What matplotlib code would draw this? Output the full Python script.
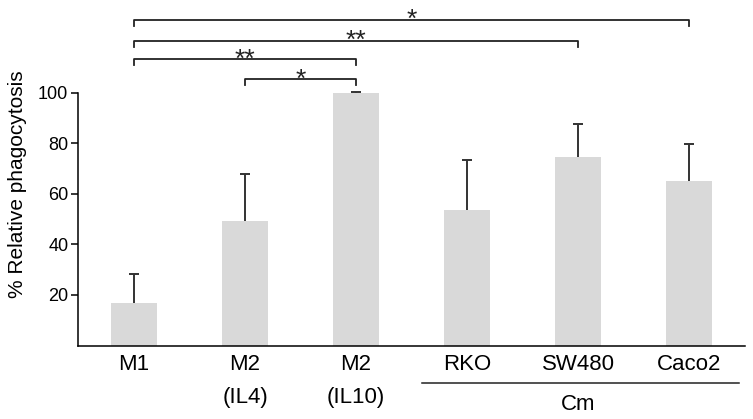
import matplotlib.pyplot as plt

plt.rcParams['font.family'] = ['Liberation Sans', 'DejaVu Sans']

groups = ['M1', 'M2\n(IL4)', 'M2\n(IL10)', 'RKO', 'SW480', 'Caco2']
values = [16.9, 49.3, 100.0, 53.4, 74.5, 65.0]
errors = [11.3, 18.6, 0.3, 19.9, 12.9, 14.8]

# significance brackets: (left bar, right bar, height, label)
brackets = [(1, 2, 105.3, '*'),
            (0, 2, 113.2, '**'),
            (0, 4, 120.4, '**'),
            (0, 5, 128.7, '*')]

fig = plt.figure(figsize=(7.53, 4.19), dpi=100)
ax = fig.add_axes([0.1036, 0.1754, 0.8858, 0.815])

x = list(range(len(groups)))
tops = [v + e for v, e in zip(values, errors)]
ax.bar(x, values, width=0.414, color='#d9d9d9', zorder=1)
# upper half of the error bars only
ax.vlines(x, values, tops, color='#333333', lw=1.4, zorder=2)
ax.hlines(tops, [i - 0.045 for i in x], [i + 0.045 for i in x],
          color='#333333', lw=1.4, zorder=2)

for a, b, h, lab in brackets:
    ax.plot([a, a, b, b], [h - 2.4, h, h, h - 2.4], color='#222222', lw=1.3,
            clip_on=False)
    ax.text((a + b) / 2, h - 2.9, lab, ha='center', va='baseline',
            fontsize=19, color='#222222')

ax.set_xlim(-0.505, 5.505)
ax.set_ylim(0, 135)
ax.set_yticks([20, 40, 60, 80, 100])
ax.set_xticks(x)
ax.set_xticklabels(groups, fontsize=16, linespacing=1.75)
ax.tick_params(axis='x', length=0, pad=6)
ax.tick_params(axis='y', labelsize=13, length=5, width=1.1, direction='out',
               pad=2)

ax.spines['top'].set_visible(False)
ax.spines['right'].set_visible(False)
ax.spines['left'].set_bounds(0, 100)
ax.spines['left'].set_linewidth(1.1)
ax.spines['bottom'].set_linewidth(1.1)
ax.set_ylabel('% Relative phagocytosis', fontsize=15)
ax.yaxis.set_label_coords(-0.077, 0.473)

# group line under the conditioned media samples
ax.plot([2.59, 5.45], [-14.8, -14.8], color='#222222', lw=1.1, clip_on=False)
ax.text(4.0, -23.3, 'Cm', ha='center', va='center', fontsize=16)

fig.savefig('out.png', dpi=100)
plt.close(fig)
